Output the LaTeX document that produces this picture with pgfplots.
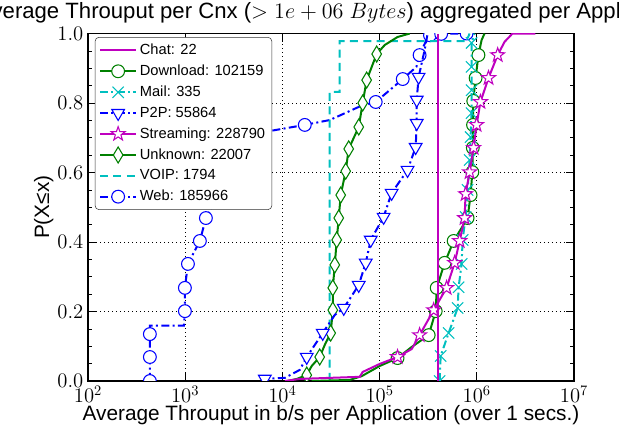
\documentclass[border=0pt]{standalone}
\usepackage{fix-cm}
\usepackage[no-math]{fontspec}
\setmainfont{Liberation Sans}
\usepackage{pgfplots}
\pgfplotsset{compat=1.18}
\usepackage{pgfplotstable}

\definecolor{mplm}{rgb}{0.75,0,0.75}
\definecolor{mplg}{rgb}{0,0.5,0}
\definecolor{mplc}{rgb}{0,0.75,0.75}
\definecolor{mplb}{rgb}{0,0,1}

\pgfdeclareplotmark{mystar}{%
\pgfpathmoveto{\pgfpointpolar{90}{\pgfplotmarksize}}%
\pgfpathlineto{\pgfpointpolar{126}{0.4\pgfplotmarksize}}%
\pgfpathlineto{\pgfpointpolar{162}{\pgfplotmarksize}}%
\pgfpathlineto{\pgfpointpolar{198}{0.4\pgfplotmarksize}}%
\pgfpathlineto{\pgfpointpolar{234}{\pgfplotmarksize}}%
\pgfpathlineto{\pgfpointpolar{270}{0.4\pgfplotmarksize}}%
\pgfpathlineto{\pgfpointpolar{306}{\pgfplotmarksize}}%
\pgfpathlineto{\pgfpointpolar{342}{0.4\pgfplotmarksize}}%
\pgfpathlineto{\pgfpointpolar{18}{\pgfplotmarksize}}%
\pgfpathlineto{\pgfpointpolar{54}{0.4\pgfplotmarksize}}%
\pgfpathclose
\pgfusepathqfillstroke}

\pgfplotstableread{
x y
402000 0
402000 1.0
}\chatdata

\pgfplotstableread{
x y
20000 0
49300 0.003
65500 0.014
100000 0.043
153000 0.066
214000 0.098
320000 0.132
378000 0.201
387000 0.268
467000 0.340
578000 0.403
804000 0.469
863000 0.535
900000 0.601
910000 0.671
915000 0.737
920000 0.806
972000 0.872
1040000 0.938
1120000 0.981
1200000 1.0
}\dldata

\pgfplotstableread{
x y
415000 0
425000 0.072
513000 0.138
635000 0.210
650000 0.270
698000 0.337
715000 0.406
767000 0.472
804000 0.550
843000 0.636
863000 0.702
884000 0.771
884000 0.837
884000 0.904
884000 0.973
949000 1.0
}\maildata

\pgfplotstableread{
x y
6140 0
6590 0.006
10600 0.009
15100 0.032
17800 0.069
26000 0.138
34600 0.19
42800 0.210
61000 0.276
72000 0.340
81100 0.406
110000 0.472
133000 0.541
194000 0.607
235000 0.673
241000 0.742
241000 0.809
252000 0.875
291000 0.953
312000 1.0
}\ptpdata

\pgfplotstableread{
x y
10600 0
15100 0.006
62400 0.012
67000 0.026
100000 0.049
153000 0.069
214000 0.092
258000 0.132
360000 0.204
489000 0.268
592000 0.340
666000 0.403
749000 0.469
767000 0.538
843000 0.601
927000 0.671
995000 0.737
1090000 0.803
1320000 0.872
1640000 0.938
1930000 0.976
2330000 1.0
4000000 1.0
}\strdata

\pgfplotstableread{
x y
11300 0
14100 0.006
17800 0.017
20000 0.043
24200 0.069
27300 0.104
31400 0.138
33000 0.204
33000 0.268
34600 0.334
36200 0.406
38000 0.469
39800 0.535
44800 0.604
48100 0.668
61000 0.731
67000 0.800
73600 0.866
93300 0.941
113000 0.967
153000 0.990
204000 1.0
}\unkdata

\pgfplotstableread{
x y
30700 0
30700 0.832
38900 0.832
38900 0.978
785000 0.978
843000 1.0
}\voipdata

\pgfplotstableread{
x y
433 0
433 0.069
433 0.135
433 0.159
970 0.159
993 0.201
993 0.268
1067 0.337
1416 0.403
1633 0.469
5000 0.71
8360 0.722
17000 0.737
30700 0.751
62400 0.790
91200 0.803
127000 0.837
173000 0.869
239000 0.904
258000 0.938
303000 0.981
330000 0.995
430000 0.999
785000 1.0
}\webdata

\pgfplotsset{
 chatst/.style={mplm, solid, line width=1.6pt},
 dlst/.style={mplg, solid, line width=1.5pt, mark=*, mark size=4.8pt, mark options={solid, fill=white, line width=0.8pt}},
 mailst/.style={mplc, line width=1.5pt, dash pattern=on 6pt off 2.5pt on 1.5pt off 2.5pt, mark=x, mark size=6pt, mark options={solid, line width=0.8pt}},
 ptpst/.style={mplb, line width=1.5pt, dash pattern=on 6pt off 2.5pt on 1.5pt off 2.5pt, mark=triangle*, mark size=5.5pt, mark options={solid, rotate=180, fill=white, line width=0.8pt}},
 strst/.style={mplm, solid, line width=1.5pt, mark=mystar, mark size=5.5pt, mark options={solid, fill=white, line width=0.8pt}},
 unkst/.style={mplg, solid, line width=1.5pt, mark=diamond*, mark size=6pt, mark options={solid, xscale=0.8, fill=white, line width=0.8pt}},
 voipst/.style={mplc, line width=1.5pt, dash pattern=on 6pt off 4pt},
 webst/.style={mplb, line width=1.5pt, dash pattern=on 6pt off 2.5pt on 1.5pt off 2.5pt, mark=*, mark size=4.8pt, mark options={solid, fill=white, line width=0.8pt}},
}

\begin{document}
\begin{tikzpicture}
\useasboundingbox (0,0) rectangle (464.25pt,321pt);
\begin{axis}[
 at={(66pt,35.25pt)}, anchor=south west,
 scale only axis, width=364.5pt, height=260.6pt,
 xmode=log, log basis x=10,
 xmin=1e2, xmax=1e7, ymin=0, ymax=1,
 xtick={1e2,1e3,1e4,1e5,1e6,1e7},
 ytick={0,0.2,0.4,0.6,0.8,1.0}, minor y tick num=3,
 yticklabel style={/pgf/number format/.cd, fixed, fixed zerofill, precision=1},
 grid=major,
 major grid style={black, dash pattern=on 0.8pt off 2.2pt, line width=0.5pt},
 tick style={black, line width=0.5pt},
 major tick length=6pt, minor tick length=3pt,
 axis line style={black, line width=0.8pt},
 ticklabel style={font=\fontsize{15.5}{18}\selectfont},
 xlabel={Average Throuput in b/s per Application (over 1 secs.)},
 ylabel={P(X≤x)},
 xlabel style={font=\fontsize{15.6}{18}\selectfont, at={(axis description cs:0.5,-0.115)}, anchor=base},
 ylabel style={font=\fontsize{15.6}{18}\selectfont, at={(axis description cs:-0.08,0.5)}, anchor=base, rotate=0},
 title={Average Throuput per Cnx ($>1e+06\;Bytes$) aggregated per Application},
 title style={font=\fontsize{16.6}{19}\selectfont, at={(axis description cs:0.5,1)}, anchor=base, yshift=4.9pt},
 clip marker paths=true,
 legend cell align=left,
 legend style={at={(axis description cs:0.014,0.99)}, anchor=north west,
   font=\fontsize{11}{13}\selectfont, draw=black!80, rounded corners=3pt, fill=white,
   row sep=2.3pt, inner sep=3pt},
 legend image code/.code={\draw[mark repeat=2,mark phase=2] plot coordinates {(0pt,0pt) (13.5pt,0pt) (27pt,0pt)};},
]
\addlegendimage{chatst}\addlegendentry{Chat: 22}
\addlegendimage{dlst}\addlegendentry{Download: 102159}
\addlegendimage{mailst}\addlegendentry{Mail: 335}
\addlegendimage{ptpst}\addlegendentry{P2P: 55864}
\addlegendimage{strst}\addlegendentry{Streaming: 228790}
\addlegendimage{unkst}\addlegendentry{Unknown: 22007}
\addlegendimage{voipst}\addlegendentry{VOIP: 1794}
\addlegendimage{webst}\addlegendentry{Web: 185966}

\addplot[webst, forget plot, mark indices={1,2,3,6,7,8,9,10,13,16,18,20,22,23,24}] table[x=x,y=y] {\webdata};
\addplot[voipst, forget plot] table[x=x,y=y] {\voipdata};
\addplot[unkst, forget plot, mark indices={3,5,7,8,9,10,11,12,13,14,15,16,17,18,19}] table[x=x,y=y] {\unkdata};
\addplot[ptpst, forget plot, mark indices={2,5,6,8,9,10,11,12,13,14,15,16,17,18}] table[x=x,y=y] {\ptpdata};
\addplot[dlst, forget plot, mark indices={5,7,8,9,10,11,12,13,14,15,16,17,18,19}] table[x=x,y=y] {\dldata};
\addplot[mailst, forget plot, mark indices={1,2,3,4,5,6,7,8,9,10,11,12,13,14,15}] table[x=x,y=y] {\maildata};
\addplot[strst, forget plot, mark indices={6,8,9,10,11,12,13,14,15,16,17,18,19,20}] table[x=x,y=y] {\strdata};
\addplot[chatst, forget plot] table[x=x,y=y] {\chatdata};
\end{axis}
\end{tikzpicture}
\end{document}
